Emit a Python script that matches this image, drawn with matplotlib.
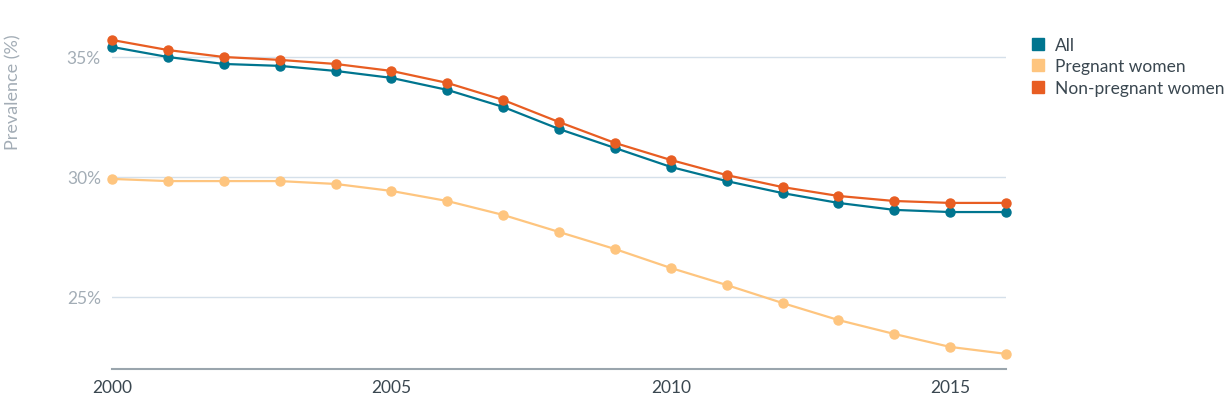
import matplotlib.pyplot as plt
from matplotlib.lines import Line2D

years = list(range(2000, 2017))
all_vals = [35.42, 35.0, 34.71, 34.63, 34.42, 34.13, 33.63, 32.92, 32.0, 31.21,
            30.42, 29.83, 29.33, 28.92, 28.63, 28.54, 28.54]
pregnant = [29.92, 29.83, 29.83, 29.83, 29.71, 29.42, 29.0, 28.42, 27.71, 27.0,
            26.21, 25.5, 24.75, 24.04, 23.46, 22.92, 22.63]
non_pregnant = [35.71, 35.29, 35.0, 34.88, 34.71, 34.42, 33.92, 33.21, 32.29, 31.42,
                30.71, 30.08, 29.58, 29.21, 29.0, 28.92, 28.92]
series_names = ['All', 'Pregnant women', 'Non-pregnant women']
colors = ['#00758f', '#fec57f', '#e85d22']
x_ticks = [2000, 2005, 2010, 2015]
y_ticks = [25, 30, 35]

plt.rcParams['font.family'] = ['Lato', 'DejaVu Sans']

fig = plt.figure(figsize=(12.3, 4.02), dpi=100)
ax = fig.add_axes([112 / 1230, 32 / 402, 894 / 1230, 360 / 402])

for vals, c in [(pregnant, colors[1]), (all_vals, colors[0]), (non_pregnant, colors[2])]:
    ax.plot(years, vals, color=c, lw=1.6, marker='o', ms=6.5, zorder=3, clip_on=False)

ax.set_xlim(2000, 2016)
ax.set_ylim(22, 37)
ax.set_xticks(x_ticks)
ax.set_xticklabels([str(t) for t in x_ticks])
ax.set_yticks(y_ticks)
ax.set_yticklabels([f'{t}%' for t in y_ticks])
ax.tick_params(axis='x', length=0, pad=7, labelsize=12.5, labelcolor='#3a4750')
ax.tick_params(axis='y', length=0, pad=8, labelsize=12.5, labelcolor='#a3adb6')
ax.grid(axis='y', color='#d5e0ea', lw=1)
for s in ['top', 'right', 'left']:
    ax.spines[s].set_visible(False)
ax.spines['bottom'].set_color('#9aa5ad')
ax.spines['bottom'].set_linewidth(1.5)

fig.text(13 / 1230, 1 - 92 / 402, 'Prevalence (%)', rotation=90, ha='center', va='center',
         fontsize=13, color='#a3adb6')

handles = [Line2D([], [], ls='none', marker='s', ms=8, color=c) for c in colors]
fig.legend(handles, series_names, loc='upper left', bbox_to_anchor=(1022 / 1230, 1 - 29 / 402),
           frameon=False, fontsize=12.5, labelcolor='#3a4750', handlelength=0.8,
           handletextpad=0.6, labelspacing=0.32, borderpad=0)

fig.savefig('out.png', dpi=100)
